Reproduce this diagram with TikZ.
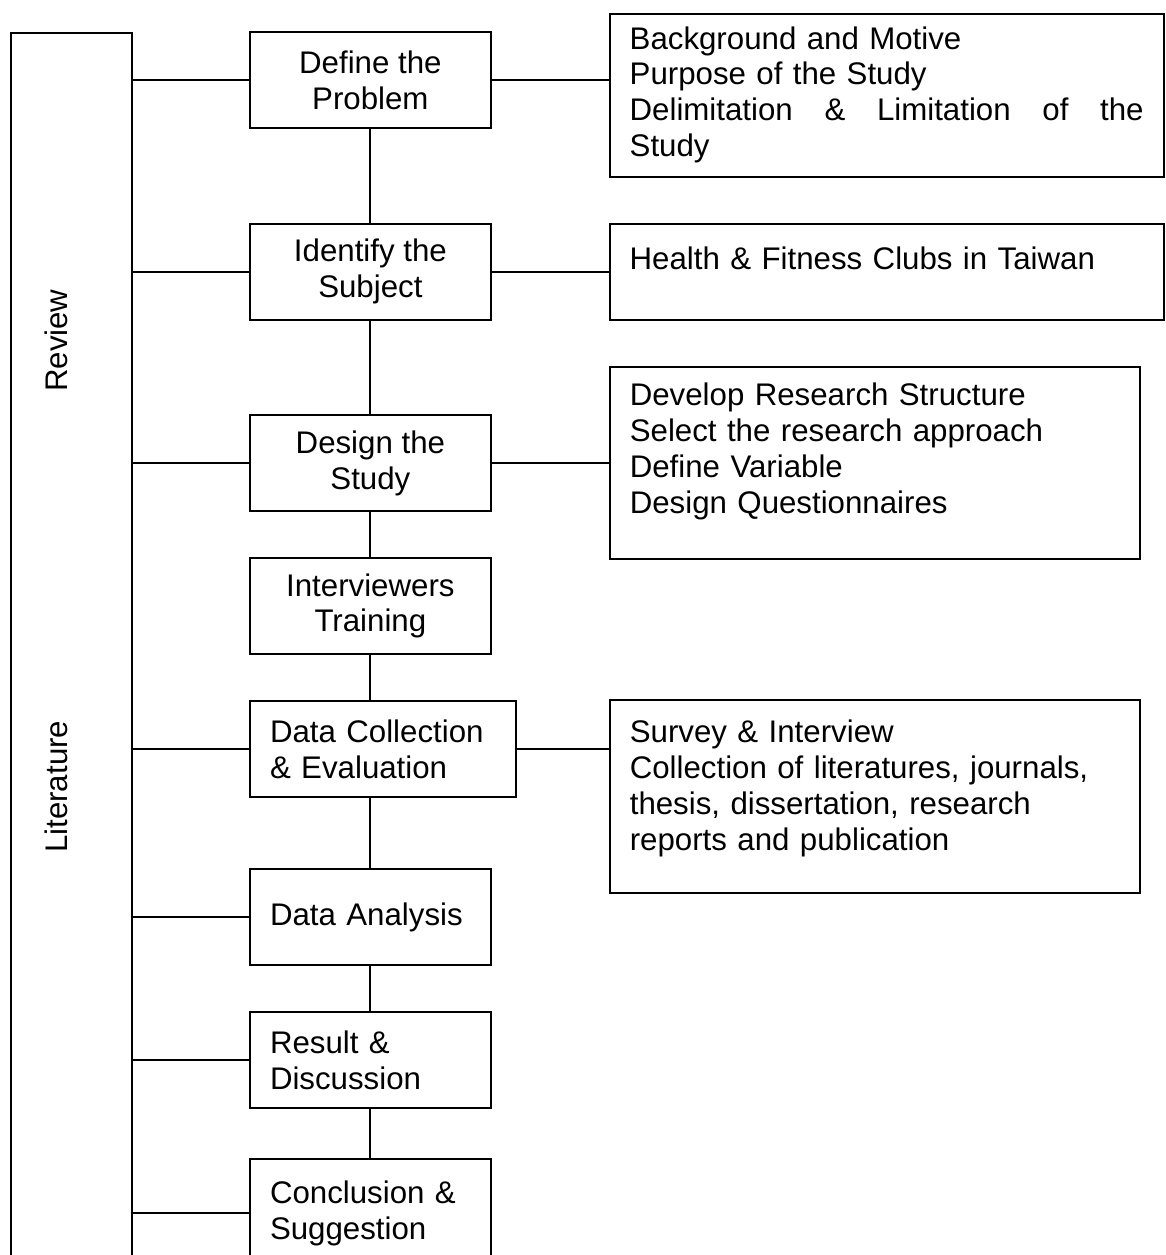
\documentclass[tikz,border=0pt]{standalone}
\usepackage{fontspec}
\setmainfont{Liberation Sans}
\usepackage{tikz}
\usetikzlibrary{positioning}
\tikzstyle{plain} = [
rectangle,
minimum width=3.25cm,
minimum height=1.3cm,
line width=0.7pt,
align=center,
font=\fontsize{12}{13.8}\selectfont,
draw=black
]
\tikzstyle{plainl} = [plain,
align=left,
text width=2.71cm,
inner xsep=0.27cm]
\tikzstyle{note} = [rectangle,
line width=0.7pt,
align=left,
inner xsep=0.27cm,
inner ysep=0pt,
font=\fontsize{12}{13.8}\selectfont,
draw=black]
\tikzstyle{link} = [line width=0.7pt]

\begin{document}
\begin{tikzpicture}[node distance=1.93cm]
      \useasboundingbox (0,0) rectangle (15.741,-16.9425);
      \node (litbox) [draw, line width=0.7pt, anchor=north west, minimum width=1.634cm, minimum height=16.9cm, inner sep=0pt] at (0.135,-0.432) {};
      \node (littext) [rotate=90, anchor=base, inner sep=0pt, font=\fontsize{12}{13.8}\selectfont] at (0.9045,-7.71) {Literature\hspace{4.44cm}Review};
      \node (define) [plain] at (5.0,-1.08) {Define the\\Problem};
      \node (identify) [plain, below of=define, yshift=-0.66cm] {Identify the\\Subject};
      \node (design) [plain, below of=identify, yshift=-0.65cm] {Design the\\Study};
      \node (interview) [plain, below of=design] {Interviewers\\Training};
      \node (collect) [plainl, below of=interview, xshift=0.17cm, text width=3.05cm] {Data Collection\\\& Evaluation};
      \node (analysis) [plainl, below of=collect, xshift=-0.17cm, yshift=-0.34cm] {Data Analysis};
      \node (result) [plainl, below of=analysis] {Result \&\\Discussion};
      \node (conclude) [plainl, below of=result, yshift=-0.135cm, minimum height=1.45cm] {Conclusion \&\\Suggestion};
      \node (bgbox) [note, right of=define, xshift=5.04cm, yshift=-0.21cm, text width=6.939cm, text height=0.4725cm, text depth=1.728cm] {Background and Motive\\Purpose of the Study\\Delimitation \hfill \& \hfill Limitation \hfill of \hfill the\\Study};
      \node (clubbox) [note, right of=identify, xshift=5.04cm, text width=6.939cm, text height=0.621cm, text depth=0.675cm] {Health \& Fitness Clubs in Taiwan};
      \node (designbox) [note, right of=design, xshift=4.88cm, text width=6.615cm, text height=0.5265cm, text depth=2.0655cm] {Develop Research Structure\\Select the research approach\\Define Variable\\Design Questionnaires};
      \node (surveybox) [note, right of=collect, xshift=4.71cm, yshift=-0.64cm, text width=6.615cm, text height=0.5805cm, text depth=2.025cm] {Survey \& Interview\\Collection of literatures, journals,\\thesis, dissertation, research\\reports and publication};
      % review side
      \draw [link] (define.west) -- (define.west -| litbox.east);
      \draw [link] (identify.west) -- (identify.west -| litbox.east);
      \draw [link] (design.west) -- (design.west -| litbox.east);
      \draw [link] (collect.west) -- (collect.west -| litbox.east);
      \draw [link] (analysis.west) -- (analysis.west -| litbox.east);
      \draw [link] (result.west) -- (result.west -| litbox.east);
      \draw [link] (conclude.west) -- (conclude.west -| litbox.east);
      % main chain
      \draw [link] (define) -- (identify);
      \draw [link] (identify) -- (design);
      \draw [link] (design) -- (interview);
      \draw [link] (interview.south) -- (interview.south |- collect.north);
      \draw [link] (analysis.north |- collect.south) -- (analysis.north);
      \draw [link] (analysis) -- (result);
      \draw [link] (result) -- (conclude);
      % details
      \draw [link] (define.east) -- (define.east -| bgbox.west);
      \draw [link] (identify.east) -- (identify.east -| clubbox.west);
      \draw [link] (design.east) -- (design.east -| designbox.west);
      \draw [link] (collect.east) -- (collect.east -| surveybox.west);
      \end{tikzpicture}
\end{document}
